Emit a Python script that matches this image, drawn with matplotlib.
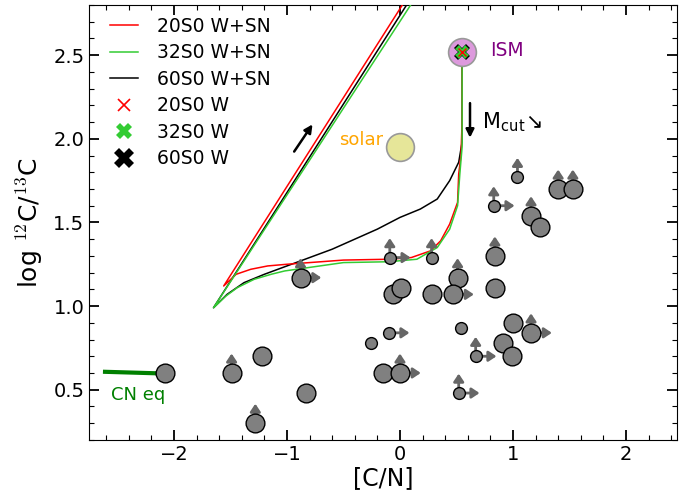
import matplotlib
matplotlib.use("Agg")
from matplotlib import pyplot as plt

plt.rcParams['font.size'] = 13
plt.rcParams['mathtext.fontset'] = 'cm'

# observaciones: [C/N], log 12C/13C, tamaño (1 grande, 0 pequeño), limites
cn = [-2.08, -1.49, -1.22, -1.28, -0.83, -0.88, -0.09, 0.28, 0.84, 1.04,
      0.83, 1.40, 1.53, 1.16, 1.24, 0.51, 0.84, -0.06, 0.01, 0.28,
      0.47, -0.10, -0.26, 0.54, 1.00, 1.16, 0.91, 0.99, 0.67, -0.15,
      0.00, 0.52]
cc = [0.60, 0.60, 0.70, 0.30, 0.48, 1.17, 1.29, 1.29, 1.30, 1.77,
      1.60, 1.70, 1.70, 1.54, 1.47, 1.17, 1.11, 1.07, 1.11, 1.07,
      1.07, 0.84, 0.78, 0.87, 0.90, 0.84, 0.78, 0.70, 0.70, 0.60,
      0.60, 0.48]
grande = [1, 1, 1, 1, 1, 1, 0, 0, 1, 0,
          0, 1, 1, 1, 1, 1, 1, 1, 1, 1,
          1, 0, 0, 0, 1, 1, 1, 1, 0, 1,
          1, 0]
lim_arriba = [0, 1, 0, 1, 0, 1, 1, 1, 1, 1,
              1, 1, 1, 1, 0, 1, 0, 0, 0, 0,
              0, 0, 0, 0, 0, 1, 0, 0, 1, 0,
              1, 1]
lim_derecha = [0, 0, 0, 0, 0, 1, 1, 0, 0, 0,
               1, 0, 0, 0, 0, 0, 0, 0, 0, 0,
               1, 1, 0, 0, 0, 1, 0, 0, 1, 0,
               1, 1]

# modelos
x_20 = [0.55, 0.55, 0.54, 0.52, 0.51, 0.44, 0.36, 0.27, 0.10, -0.1, -0.5, -1.0, -1.17, -1.32, -1.45, -1.56, 0.20]
y_20 = [2.52, 2.10, 1.90, 1.79, 1.62, 1.49, 1.39, 1.33, 1.29, 1.28, 1.275, 1.25, 1.24, 1.22, 1.19, 1.12, 2.99]
x_32 = [0.55, 0.55, 0.55, 0.53, 0.51, 0.44, 0.33, 0.15, -0.1, -0.5, -1.02, -1.14, -1.29, -1.44, -1.54, -1.65, 0.191]
y_32 = [2.52, 2.10, 1.95, 1.79, 1.60, 1.46, 1.35, 1.28, 1.265, 1.26, 1.21, 1.19, 1.16, 1.11, 1.06, 0.99, 2.90]
x_60 = [0.55, 0.55, 0.55, 0.52, 0.44, 0.33, 0.18, 0.0, -0.2, -0.4, -0.6, -0.8, -1.0, -1.2, -1.38, -1.53, -1.65, 0.153]
y_60 = [2.52, 2.10, 1.98, 1.86, 1.75, 1.64, 1.58, 1.53, 1.46, 1.40, 1.34, 1.29, 1.24, 1.19, 1.14, 1.07, 0.99, 2.90]

x_cneq = [-2.61, -2.1]
y_cneq = [0.607, 0.597]

ism = (0.55, 2.52)
solar = (0.0, 1.95)

fig = plt.figure(figsize=(6.97, 5.01), dpi=100)
ax = fig.add_axes([0.128, 0.122, 0.843, 0.868])

ax.plot(x_20, y_20, color='#ff0000', lw=1.1, zorder=3, label='20S0 W+SN')
ax.plot(x_32, y_32, color='#33cc33', lw=1.1, zorder=3, label='32S0 W+SN')
ax.plot(x_60, y_60, color='black', lw=1.1, zorder=2, label='60S0 W+SN')

ax.plot(*ism, 'o', ms=20, color='#dd99dd', mec='#999999', mew=1.2, zorder=4)
ax.plot(*solar, 'o', ms=20, color='#e6e699', mec='#999999', mew=1.2, zorder=4)
ax.plot(*ism, 'X', ms=12, color='black', mew=0, zorder=5)
ax.plot(*ism, 'X', ms=9.5, color='#33cc33', mew=0, zorder=6)
ax.plot(*ism, 'x', ms=6, color='red', mew=1, zorder=7)
# solo para la leyenda
ax.plot([], [], 'x', ms=8, color='red', mew=1.2, label='20S0 W')
ax.plot([], [], 'X', ms=12, color='#33cc33', mew=0, label='32S0 W')
ax.plot([], [], 'X', ms=14, color='black', mew=0, label='60S0 W')

ax.plot(x_cneq, y_cneq, color='#008000', lw=3, zorder=3)
ax.text(-2.56, 0.47, 'CN eq', color='#008000', fontsize=13, va='center')

ax.text(-0.34, 1.99, 'solar', color='#ffa500', fontsize=13, ha='center', va='center')
ax.text(0.80, 2.53, 'ISM', color='#800080', fontsize=13.5, ha='left', va='center')

ax.annotate('', xy=(-0.76, 2.10), xytext=(-0.95, 1.91),
            arrowprops=dict(arrowstyle='-|>', color='black', lw=1.8, mutation_scale=12))
ax.annotate('', xy=(0.62, 1.99), xytext=(0.62, 2.23),
            arrowprops=dict(arrowstyle='-|>', color='black', lw=1.8, mutation_scale=12))
ax.text(0.73, 2.10, 'M$_{\\mathregular{cut}}$\u2198', fontsize=15, va='center')

flecha = dict(arrowstyle='<|-,head_length=0.45,head_width=0.3', color='#666666',
              lw=2, shrinkA=0, shrinkB=0, mutation_scale=10)
for i in range(len(cn)):
    ms = 13.5 if grande[i] else 8.5
    if lim_arriba[i]:
        ax.annotate('', xy=(cn[i], cc[i]), xytext=(0, 14), textcoords='offset points',
                    arrowprops=flecha, zorder=7)
    if lim_derecha[i]:
        ax.annotate('', xy=(cn[i], cc[i]), xytext=(15, 0), textcoords='offset points',
                    arrowprops=flecha, zorder=7)
    ax.plot(cn[i], cc[i], 'o', ms=ms, color='#808080', mec='black', mew=1, zorder=8)

ax.set_xlim(-2.75, 2.45)
ax.set_ylim(0.2, 2.8)
ax.set_xticks([-2, -1, 0, 1, 2])
ax.set_yticks([0.5, 1.0, 1.5, 2.0, 2.5])
ax.minorticks_on()
ax.tick_params(which='both', direction='in', top=True, right=True, labelsize=14)
ax.tick_params(which='major', length=7, width=1.3)
ax.tick_params(which='minor', length=3.5, width=0.8)
ax.set_xlabel('[C/N]', fontsize=17, labelpad=2)
ax.set_ylabel('log $^{12}$C/$^{13}$C', fontsize=18, labelpad=6)

ax.legend(loc='upper left', bbox_to_anchor=(0.0228, 0.990), borderaxespad=0,
          frameon=False, fontsize=13.5, handlelength=1.5,
          handletextpad=1.0, labelspacing=0.4)

fig.savefig('out.png')
